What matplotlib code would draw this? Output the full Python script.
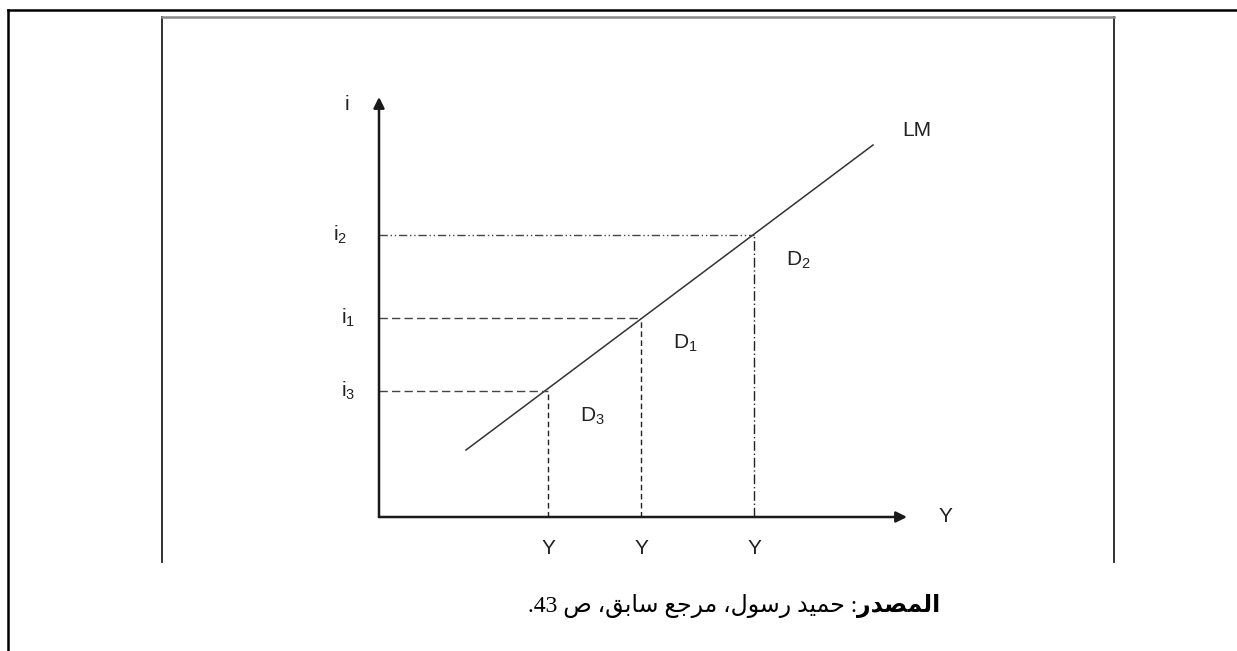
import matplotlib
matplotlib.use('Agg')
import matplotlib.pyplot as plt

plt.rcParams['font.family'] = ['Liberation Sans', 'DejaVu Sans']
plt.rcParams['mathtext.fontset'] = 'custom'
plt.rcParams['mathtext.rm'] = 'Liberation Sans'
plt.rcParams['mathtext.it'] = 'Liberation Sans'

# diagram values (arbitrary units)
i_labels = ['i$_3$', 'i$_1$', 'i$_2$']
d_labels = ['D$_3$', 'D$_1$', 'D$_2$']
i_levels = [126, 199, 282]
y_levels = [169, 262, 375]
lm_x = [87, 494]
lm_i = [67, 372]

caption_bold = 'المصدر'
caption_rest = ': حميد رسول، مرجع سابق، ص 43.'

# arabic letters -> (isolated, final, initial, medial)
FORMS = {
    'ا': ('\ufe8d', '\ufe8e', None, None),
    'ب': ('\ufe8f', '\ufe90', '\ufe91', '\ufe92'),
    'ج': ('\ufe9d', '\ufe9e', '\ufe9f', '\ufea0'),
    'ح': ('\ufea1', '\ufea2', '\ufea3', '\ufea4'),
    'د': ('\ufea9', '\ufeaa', None, None),
    'ر': ('\ufead', '\ufeae', None, None),
    'س': ('\ufeb1', '\ufeb2', '\ufeb3', '\ufeb4'),
    'ص': ('\ufeb9', '\ufeba', '\ufebb', '\ufebc'),
    'ع': ('\ufec9', '\ufeca', '\ufecb', '\ufecc'),
    'ق': ('\ufed5', '\ufed6', '\ufed7', '\ufed8'),
    'ل': ('\ufedd', '\ufede', '\ufedf', '\ufee0'),
    'م': ('\ufee1', '\ufee2', '\ufee3', '\ufee4'),
    'و': ('\ufeed', '\ufeee', None, None),
    'ي': ('\ufef1', '\ufef2', '\ufef3', '\ufef4'),
}


def shape_rtl(s):
    # pick contextual forms, then put in visual (left to right) order
    out = []
    for k, c in enumerate(s):
        if c not in FORMS:
            out.append(c)
            continue
        prev = s[k - 1] if k > 0 else ''
        nxt = s[k + 1] if k + 1 < len(s) else ''
        join_prev = prev in FORMS and FORMS[prev][2] is not None
        join_next = nxt in FORMS and FORMS[c][2] is not None
        iso, fin, ini, med = FORMS[c]
        if join_prev and join_next:
            out.append(med)
        elif join_prev:
            out.append(fin)
        elif join_next:
            out.append(ini)
        else:
            out.append(iso)
    rev = ''.join(reversed(out))
    # keep digit runs left to right
    res, run = '', ''
    for c in rev:
        if c.isdigit():
            run += c
        else:
            res += run[::-1] + c
            run = ''
    return res + run[::-1]


fig = plt.figure(figsize=(12.37, 6.51), dpi=100)

# page frame in pixel units
frame = fig.add_axes([0, 0, 1, 1])
frame.set_xlim(0, 1237)
frame.set_ylim(651, 0)
frame.axis('off')
frame.plot([8, 8], [10, 651], color='black', lw=1.8)
frame.plot([8, 1237], [10, 10], color='black', lw=1.8)
frame.plot([162, 162], [17, 562], color='#222222', lw=1.3)
frame.plot([1114, 1114], [17, 562], color='#222222', lw=1.3)
frame.plot([162, 1114], [17, 17], color='#888888', lw=1.8)

# caption
fam = ['Liberation Serif', 'DejaVu Sans']
t1 = frame.text(940, 606, shape_rtl(caption_bold), fontsize=17, fontweight='bold',
                family=fam, ha='right', va='center')
fig.canvas.draw()
bb = t1.get_window_extent()
x_left = frame.transData.inverted().transform((bb.x0, bb.y0))[0]
frame.text(x_left, 606, shape_rtl(caption_rest), fontsize=17, family=fam,
           ha='right', va='center')

# diagram
ax = fig.add_axes([379 / 1237, 134 / 651, 528 / 1237, 420 / 651])
ax.set_xlim(0, 528)
ax.set_ylim(0, 420)
ax.axis('off')

arrow = dict(arrowstyle='-|>', color='#1a1a1a', lw=1.8, mutation_scale=16,
             shrinkA=0, shrinkB=0)
ax.annotate('', xy=(528, 0), xytext=(0, 0), arrowprops=arrow, annotation_clip=False)
ax.annotate('', xy=(0, 420), xytext=(0, 0), arrowprops=arrow, annotation_clip=False)

ax.plot(lm_x, lm_i, color='#333333', lw=1.1)

h_styles = [(0, (6, 3)), (0, (6, 3)), (0, (6, 2, 1, 2, 1, 2))]
v_styles = [(0, (4, 2.5)), (0, (4, 2.5)), (0, (7, 2, 1, 2))]
for k in range(3):
    ax.plot([0, y_levels[k]], [i_levels[k], i_levels[k]], color='#444444', lw=1,
            linestyle=h_styles[k])
    ax.plot([y_levels[k], y_levels[k]], [0, i_levels[k]], color='#222222', lw=1,
            linestyle=v_styles[k])
    ax.text(-24 - (8 if k == 2 else 0), i_levels[k], i_labels[k], fontsize=15,
            ha='right', va='center', color='#222222')
    ax.text(y_levels[k] + 44, i_levels[k] - 25, d_labels[k], fontsize=15,
            ha='center', va='center', color='#222222')
    ax.text(y_levels[k], -32, 'Y', fontsize=15, ha='center', va='center',
            color='#222222')

ax.text(-32, 412, 'i', fontsize=15, ha='center', va='center', color='#222222')
ax.text(566, 0, 'Y', fontsize=15, ha='center', va='center', color='#222222')
ax.text(538, 387, 'LM', fontsize=15, ha='center', va='center', color='#222222')

fig.savefig('out.png', dpi=100)
